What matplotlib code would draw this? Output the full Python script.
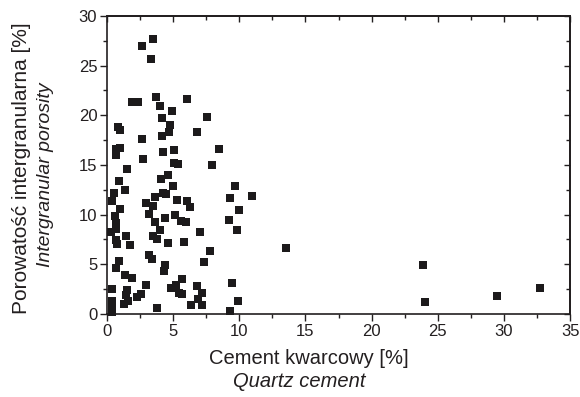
import matplotlib
matplotlib.use("Agg")
import matplotlib.pyplot as plt
from matplotlib.ticker import MultipleLocator

plt.rcParams['font.family'] = ['Liberation Sans', 'DejaVu Sans']

# Quartz cement [%] vs. intergranular porosity [%]
quartz_cement = [
    3.48, 2.65, 3.33, 1.9, 2.35, 3.7, 4.0, 6.05, 4.9, 7.55,
    4.15, 4.75, 0.83, 1.0, 4.7, 4.15, 6.8, 2.65, 1.0, 0.7,
    0.7, 5.05, 4.25, 8.45, 2.7, 5.05, 5.35, 7.95, 1.5, 4.6,
    4.1, 0.9, 5.0, 9.7, 0.5, 1.35, 4.2, 4.45, 3.6, 0.4,
    5.3, 6.05, 6.3, 2.95, 3.5, 9.3, 10.95, 10.0, 1.0, 0.6,
    3.2, 5.15, 4.4, 3.6, 5.6, 6.0, 9.2, 0.7, 0.7, 0.3,
    4.0, 7.0, 9.8, 1.45, 3.5, 3.8, 0.7, 0.75, 1.75, 4.6,
    5.8, 7.8, 13.5, 3.2, 3.4, 0.9, 7.3, 0.7, 4.4, 4.3,
    1.35, 1.9, 5.65, 9.45, 2.95, 0.4, 1.5, 1.45, 4.85, 5.2,
    6.8, 7.2, 5.45, 5.65, 2.55, 2.25, 6.9, 1.6, 1.3, 0.4,
    0.4, 0.4, 6.35, 7.2, 3.8, 9.3, 9.9, 23.9, 24.05, 29.5,
    32.7,
]
porosity = [
    27.7, 27.0, 25.7, 21.35, 21.35, 21.85, 20.95, 21.65, 20.45, 19.85,
    19.75, 19.05, 18.85, 18.55, 18.35, 17.9, 18.35, 17.6, 16.7, 16.6,
    16.0, 16.5, 16.3, 16.6, 15.6, 15.2, 15.1, 15.0, 14.6, 14.0,
    13.6, 13.4, 12.9, 12.9, 12.2, 12.5, 12.2, 12.1, 11.8, 11.4,
    11.5, 11.4, 10.8, 11.2, 10.9, 11.7, 11.9, 10.5, 10.6, 9.9,
    10.1, 10.0, 9.7, 9.25, 9.35, 9.25, 9.45, 9.15, 8.55, 8.25,
    8.45, 8.25, 8.45, 7.85, 7.85, 7.55, 7.45, 7.05, 6.95, 7.15,
    7.25, 6.35, 6.65, 5.95, 5.55, 5.35, 5.25, 4.65, 4.95, 4.35,
    3.95, 3.65, 3.5, 3.1, 2.9, 2.5, 2.4, 1.9, 2.6, 2.9,
    2.8, 2.1, 2.1, 2.0, 2.0, 1.7, 1.5, 1.3, 1.0, 1.3,
    0.7, 0.2, 0.9, 0.9, 0.6, 0.3, 1.3, 4.9, 1.2, 1.8,
    2.6,
]

x_ticks = [0, 5, 10, 15, 20, 25, 30, 35]
y_ticks = [0, 5, 10, 15, 20, 25, 30]

ink = '#231f20'

fig = plt.figure(figsize=(5.80, 3.97), dpi=100)
ax = fig.add_axes([0.1845, 0.209, 0.7985, 0.751])

ax.plot(quartz_cement, porosity, linestyle='none', marker='s', ms=5.8,
        mfc='#1c1a1b', mec='#1c1a1b', mew=0, clip_on=False, zorder=3)

ax.set_xlim(0, 35)
ax.set_ylim(0, 30)
ax.set_xticks(x_ticks)
ax.set_yticks(y_ticks)
ax.xaxis.set_minor_locator(MultipleLocator(2.5))
ax.yaxis.set_minor_locator(MultipleLocator(2.5))

for s in ax.spines.values():
    s.set_linewidth(1.2)
    s.set_color(ink)

ax.tick_params(axis='both', which='major', direction='out', length=5,
               width=1.0, colors=ink, labelsize=12, pad=2)
ax.tick_params(axis='both', which='minor', direction='out', length=3,
               width=1.0, colors=ink)

# Mirror ticks on the top and right sides, pointing inward
top = ax.secondary_xaxis('top')
top.set_xticks(x_ticks)
top.xaxis.set_minor_locator(MultipleLocator(2.5))
top.tick_params(which='major', direction='in', length=4, width=1.0,
                colors=ink, labeltop=False)
top.tick_params(which='minor', direction='in', length=3, width=1.0,
                colors=ink)
top.spines['top'].set_linewidth(1.2)

right = ax.secondary_yaxis('right')
right.set_yticks(y_ticks)
right.yaxis.set_minor_locator(MultipleLocator(2.5))
right.tick_params(which='major', direction='in', length=4, width=1.0,
                  colors=ink, labelright=False)
right.tick_params(which='minor', direction='in', length=3, width=1.0,
                  colors=ink)
right.spines['right'].set_linewidth(1.2)

fig.text(0.533, 0.098, 'Cement kwarcowy [%]', ha='center', va='center',
         fontsize=14.5, color=ink)
fig.text(0.516, 0.038, 'Quartz cement', ha='center', va='center',
         fontsize=14.5, color=ink, style='italic')
fig.text(0.037, 0.577, 'Porowatość intergranularna [%]', ha='center',
         va='center', rotation=90, fontsize=15, color=ink)
fig.text(0.078, 0.56, 'Intergranular porosity', ha='center',
         va='center', rotation=90, fontsize=14, color=ink, style='italic')

fig.savefig('out.png', dpi=100)
